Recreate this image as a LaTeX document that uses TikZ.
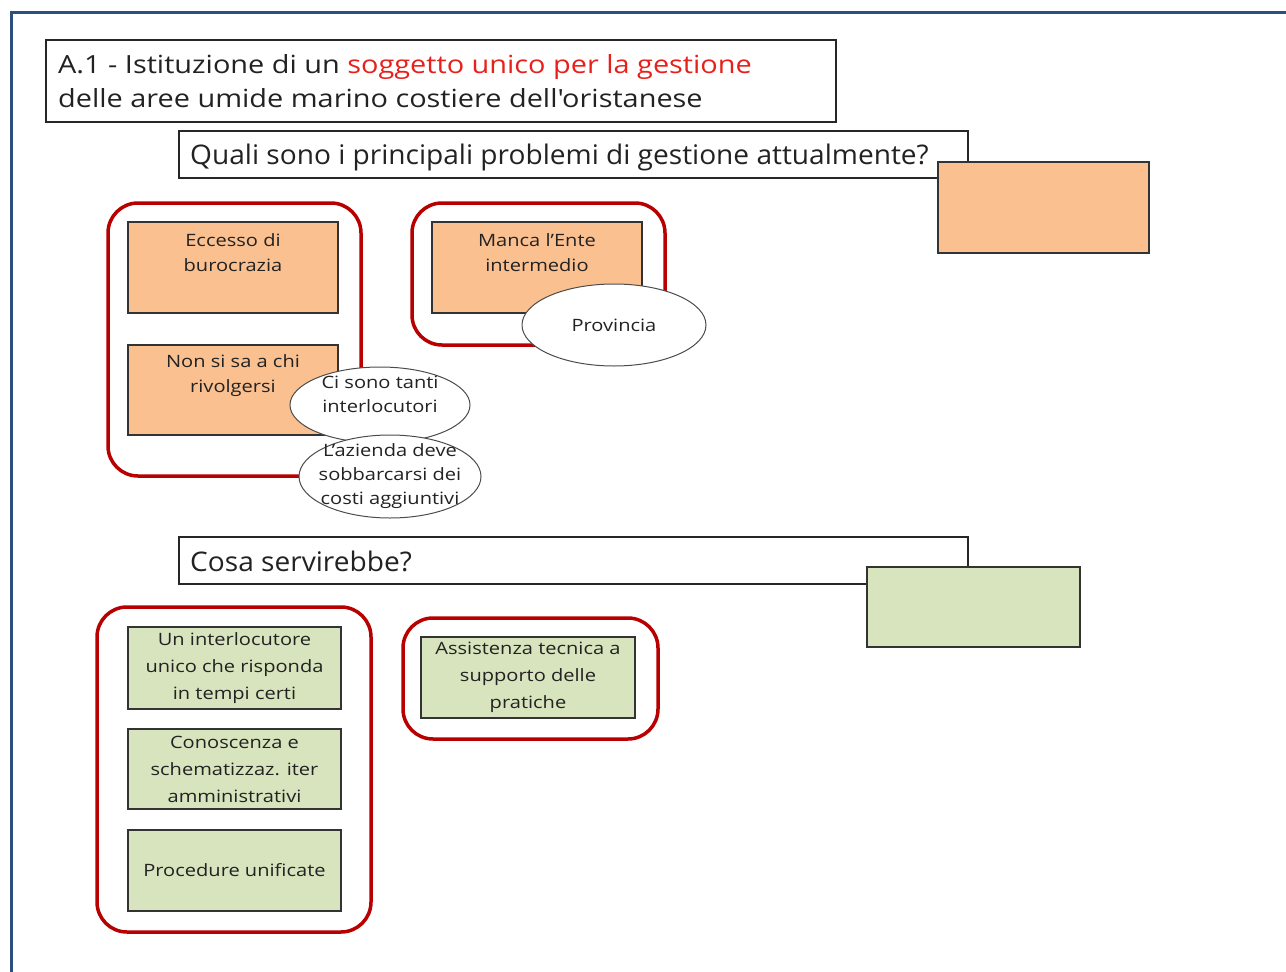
\documentclass[tikz,border=0pt]{standalone}
\usepackage{fontspec}
\setmainfont{Open Sans}[FakeStretch=1.18]
\newfontfamily\titlefont{Open Sans}[FakeStretch=1.155]
\newfontfamily\qfont{Open Sans}[FakeStretch=1.04]
\usetikzlibrary{shapes.geometric}
\definecolor{frameblue}{HTML}{2C4F7E}
\definecolor{boxred}{HTML}{B80000}
\definecolor{orangefill}{HTML}{FAC090}
\definecolor{greenfill}{HTML}{D7E4BD}
\definecolor{titlered}{HTML}{E8201C}
\definecolor{txt}{HTML}{222222}
\tikzset{
  framel/.style={draw=frameblue, line width=3},
  plainbox/.style={draw=black!85, line width=1.2, fill=white, rectangle, inner sep=0, outer sep=0},
  redbox/.style={draw=boxred, line width=3.5, rounded corners=30},
  obox/.style={draw=black!80, line width=1.2, fill=orangefill, rectangle, inner sep=0, outer sep=0},
  gbox/.style={draw=black!80, line width=1.2, fill=greenfill, rectangle, inner sep=0, outer sep=0, align=center, text=txt, font=\fontsize{17}{27}\selectfont},
  ell/.style={draw=black!70, line width=1, fill=white, ellipse, inner sep=0, outer sep=0, align=center, text=txt, font=\fontsize{17}{24}\selectfont},
  etext/.style={inner sep=0, align=center, text=txt, font=\fontsize{17}{24}\selectfont},
  btext/.style={anchor=north, align=center, text=txt, inner sep=0, font=\fontsize{17}{25}\selectfont},
  qtext/.style={anchor=west, text=txt, inner sep=0, font=\qfont\fontsize{27}{32}\selectfont},
}
\begin{document}
\begin{tikzpicture}[x=1pt,y=-1pt]
\useasboundingbox (0,0) rectangle (1286,972);
% frame
\coordinate (fbl) at (11,972);
\coordinate (ftl) at (11,12);
\coordinate (ftr) at (1286,12);
\draw[framel] (fbl) -- (ftl) -- (ftr);

% title
\node[plainbox, minimum width=790, minimum height=82] (title) at (441,81) {};
\node[anchor=north west, align=left, text=txt, inner sep=0, font=\titlefont\fontsize{25}{34}\selectfont] (titletext) at (58,54)
  {A.1 - Istituzione di un \textcolor{titlered}{soggetto unico per la gestione}\\delle aree umide marino costiere dell'oristanese};

% question 1
\node[plainbox, minimum width=789, minimum height=47] (q1) at (573.5,154.5) {};
\node[qtext] (q1text) at (190,157) {Quali sono i principali problemi di gestione attualmente?};
\node[obox, minimum width=211, minimum height=91] (oempty) at (1043.5,207.5) {};

% red groups, top
\node[redbox, minimum width=253, minimum height=273, rectangle] (r1) at (234.5,339.5) {};
\node[redbox, minimum width=253, minimum height=142, rectangle] (r2) at (538.5,274) {};

\node[obox, minimum width=210, minimum height=91] (ecc) at (233,267.5) {};
\node[btext] (ecct) at ([yshift=-11]ecc.north) {Eccesso di\\burocrazia};
\node[obox, minimum width=210, minimum height=90] (non) at (233,390) {};
\node[btext] (nont) at ([yshift=-9]non.north) {Non si sa a chi\\rivolgersi};
\node[obox, minimum width=210, minimum height=91] (manca) at (537,267.5) {};
\node[btext] (mancat) at ([yshift=-11]manca.north) {Manca l'Ente\\intermedio};

\node[ell, minimum width=180, minimum height=76] (ci) at (380,405) {};
\node[etext] (cit) at (380,394) {Ci sono tanti\\interlocutori};
\node[ell, minimum width=182, minimum height=83] (az) at (390,476.5) {};
\node[etext] (azt) at (az.center) {L'azienda deve\\sobbarcarsi dei\\costi aggiuntivi};
\node[ell, minimum width=184, minimum height=82] (prov) at (614,325) {Provincia};

% question 2
\node[plainbox, minimum width=789, minimum height=47] (q2) at (573.5,560.5) {};
\node[qtext] (q2text) at (190,561) {Cosa servirebbe?};
\node[gbox, minimum width=213, minimum height=80] (gempty) at (973.5,607) {};

% red groups, bottom
\node[redbox, minimum width=274, minimum height=325, rectangle] (r3) at (234,769.5) {};
\node[redbox, minimum width=255, minimum height=121, rectangle] (r4) at (530.5,678.5) {};

\node[gbox, minimum width=213, minimum height=82] (g1) at (234.5,668) {Un interlocutore\\unico che risponda\\in tempi certi};
\node[gbox, minimum width=213, minimum height=80] (g2) at (234.5,769) {Conoscenza e\\schematizzaz. iter\\amministrativi};
\node[gbox, minimum width=213, minimum height=81] (g3) at (234.5,870.5) {Procedure unificate};
\node[gbox, minimum width=214, minimum height=81] (g4) at (528,677.5) {Assistenza tecnica a\\supporto delle\\pratiche};
\end{tikzpicture}
\end{document}
